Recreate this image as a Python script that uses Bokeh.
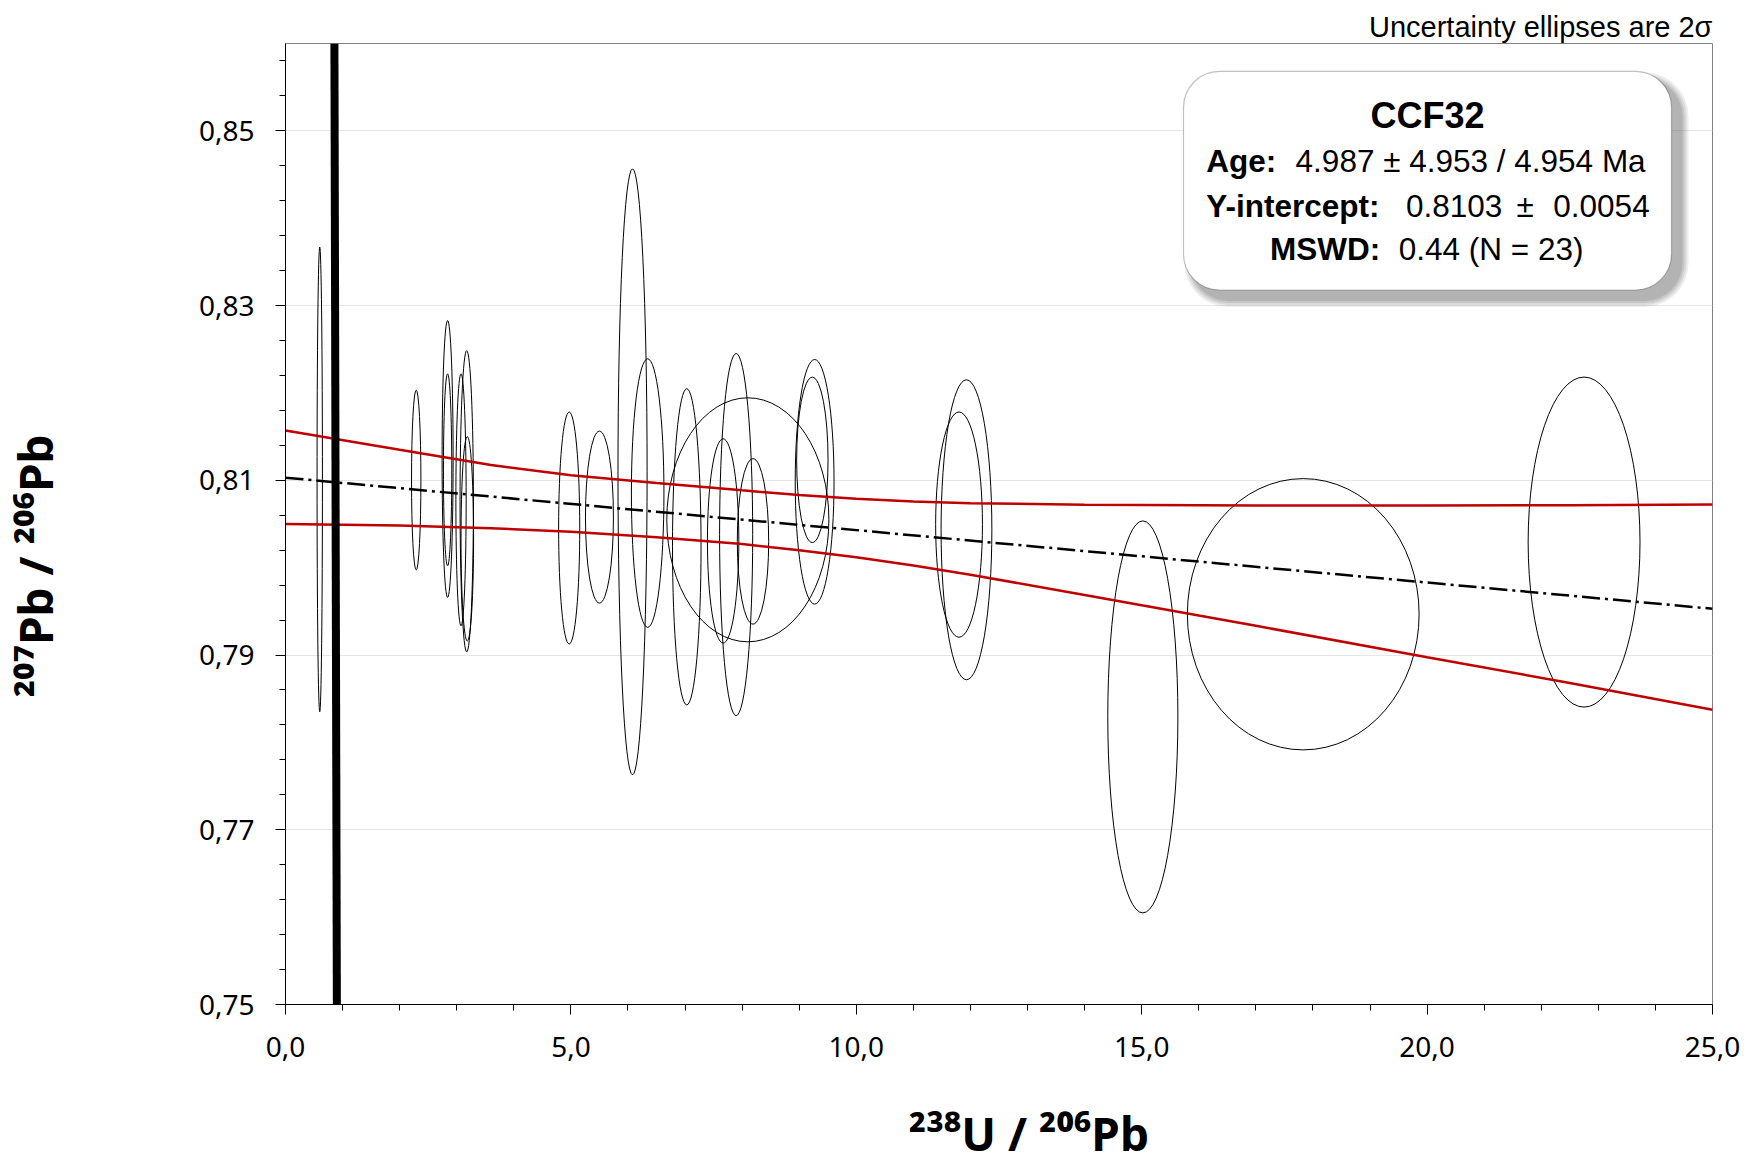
from bokeh.plotting import figure
from bokeh.models import (Range1d, FixedTicker, CustomJSTickFormatter, Label,
                          BoxAnnotation, Title)
from bokeh.embed import file_html
from bokeh.resources import INLINE

# ---------------- data ----------------
ell_x = [0.60, 2.29, 2.84, 2.84, 3.075, 3.175, 3.185, 4.97, 5.50, 6.08, 6.345,
         7.03, 7.667, 7.895, 8.10, 8.19, 9.27, 9.23, 11.80, 11.93, 15.02, 17.83, 22.75]
ell_y = [0.8101, 0.81003, 0.81244, 0.8112, 0.80777, 0.8076, 0.8033, 0.80454, 0.80579,
         0.81097, 0.80854, 0.80239, 0.80306, 0.80379, 0.80548, 0.80301, 0.80983,
         0.81234, 0.80493, 0.80434, 0.78292, 0.79467, 0.80293]
ell_w = [0.094, 0.164, 0.193, 0.146, 0.18, 0.234, 0.22, 0.37, 0.49, 0.51, 0.57,
         0.50, 0.55, 0.58, 2.84, 0.55, 0.68, 0.55, 0.82, 0.89, 1.228, 4.06, 1.96]
ell_h = [0.0532, 0.02057, 0.0317, 0.02198, 0.02884, 0.03458, 0.0234, 0.02655, 0.01969,
         0.06937, 0.03074, 0.03619, 0.02339, 0.04145, 0.02793, 0.01894, 0.028,
         0.01893, 0.02583, 0.0344, 0.04487, 0.03105, 0.03783]

regr_x = [0.0, 25.0]
regr_y = [0.8103, 0.7953]

env_x = [0.0, 2.0, 3.6, 5.0, 6.5, 8.0, 9.0, 10.0, 11.0, 12.0, 14.0, 17.0, 20.0, 22.5, 25.0]
env_upper = [0.8157, 0.8135, 0.81175, 0.81058, 0.8097, 0.80885, 0.80832, 0.80788,
             0.80757, 0.80738, 0.8072, 0.80711, 0.80712, 0.80716, 0.80722]
env_lower = [0.8050, 0.80482, 0.80452, 0.80412, 0.80347, 0.8027, 0.8020, 0.8012,
             0.80025, 0.7992, 0.79688, 0.79335, 0.78975, 0.7868, 0.78375]

conc_x = [0.857, 0.900]
conc_y = [0.86, 0.75]

x_major = [0, 5, 10, 15, 20, 25]
x_labels = ["0,0", "5,0", "10,0", "15,0", "20,0", "25,0"]
y_major = [0.75, 0.77, 0.79, 0.81, 0.83, 0.85]
y_labels = ["0,75", "0,77", "0,79", "0,81", "0,83", "0,85"]

x_title = "\u00b2\u00b3\u2078U / \u00b2\u2070\u2076Pb"
y_title = "\u00b2\u2070\u2077Pb / \u00b2\u2070\u2076Pb"

sample_name = "CCF32"
age_value = "4.987 \u00b1 4.953 / 4.954 Ma"
yint_value, yint_pm, yint_err = "0.8103", "\u00b1", "0.0054"
mswd_value = "0.44 (N = 23)"
note_text = "Uncertainty ellipses are 2\u03c3"

# ---------------- layout ----------------
W, H = 1747, 1166
FL, FR, FT, FB = 285, 1712, 43, 1006
X0, X1, Y0, Y1 = 0.0, 25.0, 0.75, 0.86
NB = "\u00a0"


def dx(px):
    return X0 + (px - FL) / (FR - FL) * (X1 - X0)


def dy(py):
    return Y0 + (FB - py) / (FB - FT) * (Y1 - Y0)


p = figure(width=W, height=H, output_backend="svg", toolbar_location=None,
           x_range=Range1d(X0, X1), y_range=Range1d(Y0, Y1), title=None,
           min_border_left=FL, min_border_right=W - FR, min_border_top=FT,
           min_border_bottom=H - FB)
p.background_fill_color = "white"
p.border_fill_color = "white"
p.outline_line_color = "#7f7f7f"
p.outline_line_width = 1

p.add_layout(Title(text=note_text, align="right", text_font="Liberation Sans",
                   text_font_size="29px", text_font_style="normal",
                   text_color="black", standoff=2, offset=0), "above")

x_minor = [v for v in range(0, 26) if v not in x_major]
y_minor = [round(0.75 + 0.004 * i, 3) for i in range(28)]
p.xaxis.ticker = FixedTicker(ticks=x_major, minor_ticks=x_minor)
p.yaxis.ticker = FixedTicker(ticks=y_major, minor_ticks=y_minor)
FMT = """
const i = tk.findIndex(t => Math.abs(t - tick) < 1e-9);
return i >= 0 ? lb[i] : '';
"""
p.xaxis.formatter = CustomJSTickFormatter(args=dict(tk=x_major, lb=x_labels), code=FMT)
p.yaxis.formatter = CustomJSTickFormatter(args=dict(tk=y_major, lb=y_labels), code=FMT)

for ax in (p.xaxis[0], p.yaxis[0]):
    ax.axis_line_color = "black"
    ax.axis_line_width = 1
    ax.major_tick_in = 0
    ax.major_tick_out = 10
    ax.minor_tick_in = 0
    ax.minor_tick_out = 6
    ax.major_tick_line_color = "black"
    ax.minor_tick_line_color = "black"
    ax.major_label_text_font = "Noto Sans"
    ax.major_label_text_font_size = "28px"
    ax.major_label_text_color = "black"
    ax.axis_label_text_font = "Noto Sans"
    ax.axis_label_text_font_size = "46px"
    ax.axis_label_text_font_style = "bold"
    ax.axis_label_text_color = "black"
p.xaxis.major_label_standoff = 22
p.yaxis.major_label_standoff = 21
# non-breaking spaces shift the centred titles to where the reference has them
p.xaxis.axis_label = NB * 5 + x_title
p.yaxis.axis_label = y_title + NB * 7
p.xaxis.axis_label_standoff = 42
p.yaxis.axis_label_standoff = 130

p.xgrid.visible = False
p.ygrid.ticker = FixedTicker(ticks=y_major[1:])
p.ygrid.grid_line_color = "#e6e6e6"
p.ygrid.grid_line_width = 1

# ---------------- marks ----------------
p.ellipse(x=ell_x, y=ell_y, width=ell_w, height=ell_h, fill_color=None,
          line_color="black", line_width=1)
p.line(env_x, env_upper, line_color="#C00000", line_width=2.5)
p.line(env_x, env_lower, line_color="#C00000", line_width=2.5)
p.line(regr_x, regr_y, line_color="black", line_width=2.5, line_dash="18 5 3 5")
p.line(conc_x, conc_y, line_color="black", line_width=8)

# ---------------- info box ----------------
bl, br, bt, bb = 1183, 1671, 71, 290
for k, a in [(8, 0.10), (6, 0.12), (4, 0.14), (2, 0.16)]:
    p.add_layout(BoxAnnotation(left=dx(bl + 9 - k), right=dx(br + 9 + k),
                               top=dy(bt + 9 - k), bottom=dy(bb + 9 + k),
                               fill_color="#505050", fill_alpha=a, line_color=None,
                               border_radius=36 + k))
p.add_layout(BoxAnnotation(left=dx(bl), right=dx(br), top=dy(bt), bottom=dy(bb),
                           fill_color="white", fill_alpha=1.0, line_color="#303030",
                           line_width=1.2, border_radius=36))


def lab(px, py, text, size, bold=False, align="left"):
    p.add_layout(Label(x=dx(px), y=dy(py), text=text, text_font="Liberation Sans",
                       text_font_size=f"{size}px",
                       text_font_style="bold" if bold else "normal",
                       text_align=align, text_baseline="alphabetic",
                       text_color="black"))


lab(1427, 115, sample_name, 36, bold=True, align="center")
lab(1205.7, 161, "Age:", 31.5, bold=True)
lab(1295.1, 161, age_value, 31.5)
lab(1205.7, 205.5, "Y-intercept:", 31.5, bold=True)
lab(1405.5, 205.5, yint_value, 31.5)
lab(1516.0, 205.5, yint_pm, 31.5)
lab(1552.8, 205.5, yint_err, 31.5)
lab(1269.4, 249, "MSWD:", 31.5, bold=True)
lab(1398.2, 249, mswd_value, 31.5)

open("out.html", "w").write(file_html(p, INLINE))
